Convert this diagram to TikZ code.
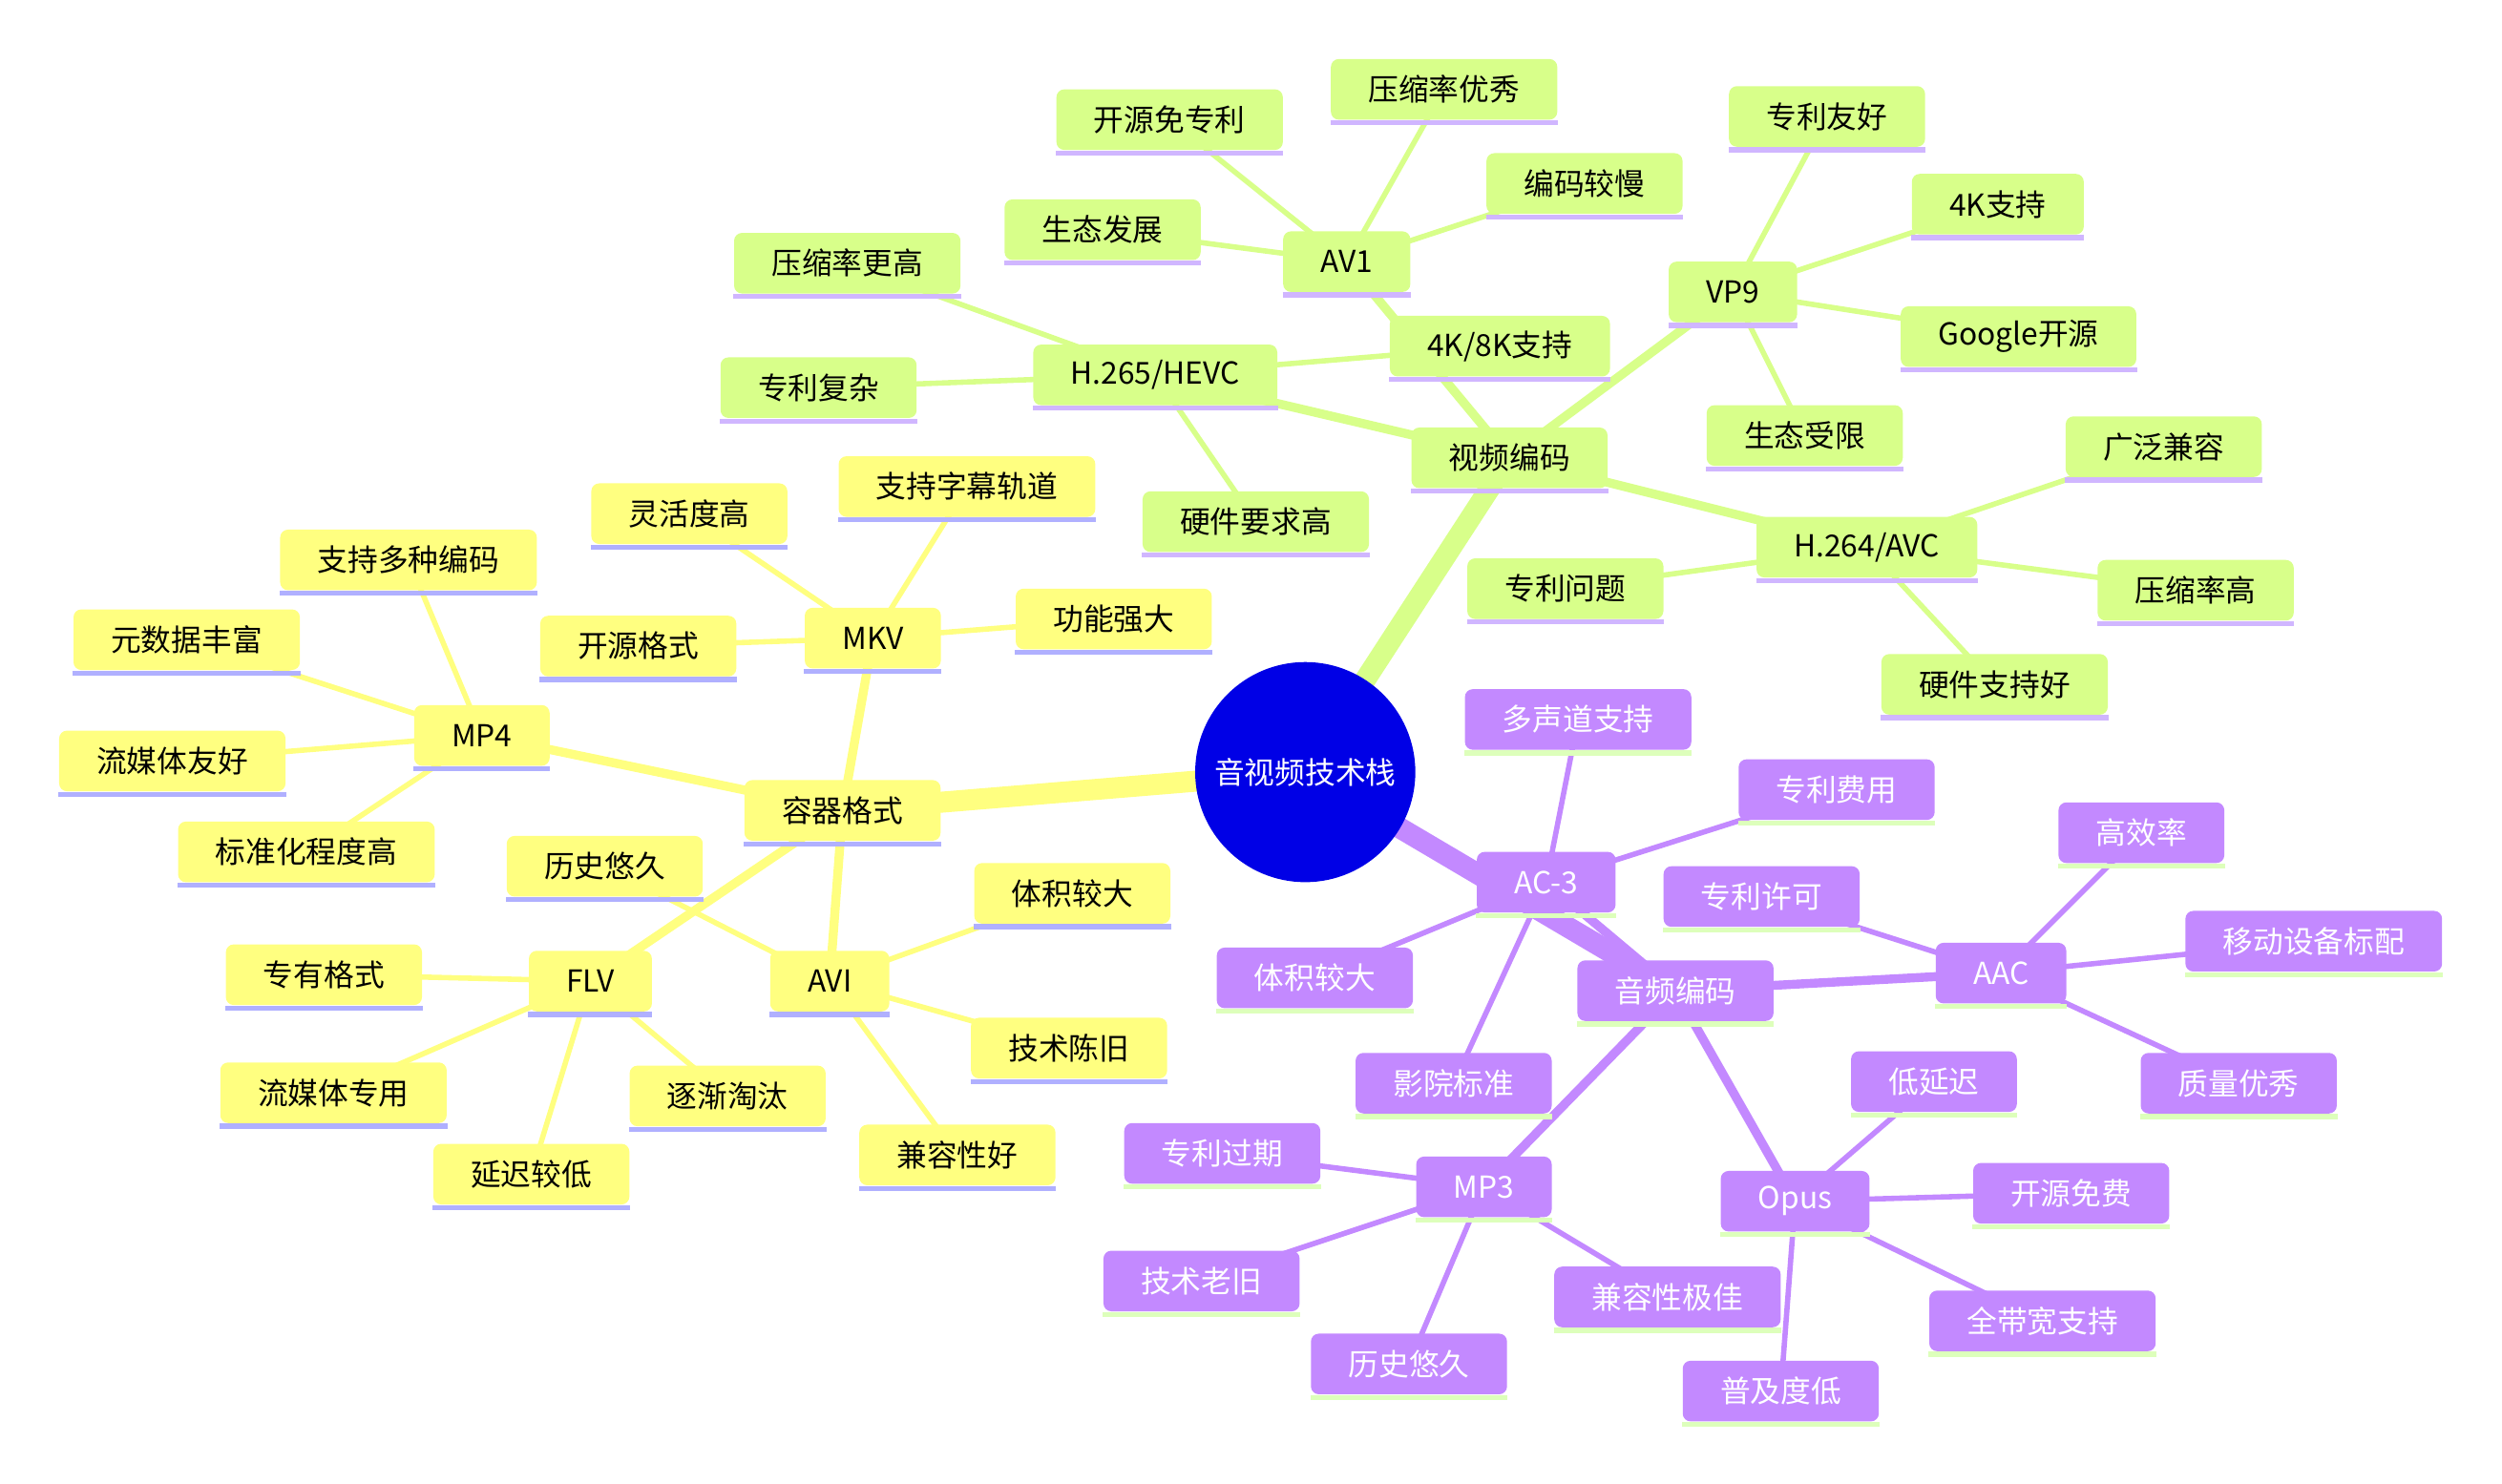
\documentclass[tikz,border=0pt]{standalone}
\usepackage{fontspec}
\setmainfont{Noto Sans CJK SC}
\usetikzlibrary{backgrounds}
\definecolor{vidfill}{RGB}{216,255,138}
\definecolor{vidline}{RGB}{208,182,255}
\definecolor{confill}{RGB}{255,255,128}
\definecolor{conline}{RGB}{176,176,255}
\definecolor{audfill}{RGB}{195,137,255}
\definecolor{audline}{RGB}{221,255,187}
\definecolor{rootfill}{RGB}{0,0,230}
\begin{document}
\begin{tikzpicture}[x=0.02cm, y=-0.02cm, every node/.style={font=\fontsize{10.8}{13}\selectfont},
  b/.style={rounded corners=2.8pt, minimum height=0.76cm, inner xsep=0.47cm, inner ysep=0pt},
  v/.style={b, fill=vidfill, append after command={([yshift=-0.9pt]\tikzlastnode.south west) edge[draw=vidline, line width=1.8pt] ([yshift=-0.9pt]\tikzlastnode.south east)}},
  k/.style={b, fill=confill, append after command={([yshift=-0.9pt]\tikzlastnode.south west) edge[draw=conline, line width=1.8pt] ([yshift=-0.9pt]\tikzlastnode.south east)}},
  a/.style={b, fill=audfill, text=white, append after command={([yshift=-0.9pt]\tikzlastnode.south west) edge[draw=audline, line width=1.8pt] ([yshift=-0.9pt]\tikzlastnode.south east)}},
  e0/.style={line width=7.5pt}, e1/.style={line width=3.2pt}, e2/.style={line width=1.9pt}]
  \useasboundingbox (0,0) rectangle (1568,930);
  % root
  \node[circle, fill=rootfill, text=white, minimum size=2.76cm, inner sep=0pt] (root) at (818,484) {音视频技术栈};
  % video
  \node[v] (vid) at (946,287) {视频编码};
  \node[v] (hevc) at (724,235) {H.265/HEVC};
  \node[v] (av1) at (844,164) {AV1};
  \node[v] (vp9) at (1086,183) {VP9};
  \node[v] (avc) at (1170,343) {H.264/AVC};
  \node[v] (av1a) at (733,75) {开源免专利};
  \node[v] (av1b) at (905,56) {压缩率优秀};
  \node[v] (av1c) at (993,115) {编码较慢};
  \node[v] (av1d) at (691,144) {生态发展};
  \node[v] (hevca) at (531,165) {压缩率更高};
  \node[v] (hevcb) at (513,243) {专利复杂};
  \node[v] (hevcc) at (787,327) {硬件要求高};
  \node[v] (hevcd) at (940,217) {4K/8K支持};
  \node[v] (vp9a) at (1145,73) {专利友好};
  \node[v] (vp9b) at (1252,128) {4K支持};
  \node[v] (vp9c) at (1265,211) {Google开源};
  \node[v] (vp9d) at (1131,273) {生态受限};
  \node[v] (avca) at (1356,280) {广泛兼容};
  \node[v] (avcb) at (1376,370) {压缩率高};
  \node[v] (avcc) at (1250,429) {硬件支持好};
  \node[v] (avcd) at (981,369) {专利问题};
  % container
  \node[k] (con) at (528,508) {容器格式};
  \node[k] (mp4) at (302,461) {MP4};
  \node[k] (mkv) at (547,400) {MKV};
  \node[k] (flv) at (370,615) {FLV};
  \node[k] (avi) at (520,615) {AVI};
  \node[k] (mp4a) at (256,351) {支持多种编码};
  \node[k] (mp4b) at (117,401) {元数据丰富};
  \node[k] (mp4c) at (108,477) {流媒体友好};
  \node[k] (mp4d) at (192,534) {标准化程度高};
  \node[k] (mkva) at (432,322) {灵活度高};
  \node[k] (mkvb) at (606,305) {支持字幕轨道};
  \node[k] (mkvc) at (400,405) {开源格式};
  \node[k] (mkvd) at (698,388) {功能强大};
  \node[k] (flva) at (203,611) {专有格式};
  \node[k] (flvb) at (209,685) {流媒体专用};
  \node[k] (flvc) at (333,736) {延迟较低};
  \node[k] (flvd) at (456,687) {逐渐淘汰};
  \node[k] (avia) at (379,543) {历史悠久};
  \node[k] (avib) at (672,560) {体积较大};
  \node[k] (avic) at (670,657) {技术陈旧};
  \node[k] (avid) at (600,724) {兼容性好};
  % audio
  \node[a] (aud) at (1050,621) {音频编码};
  \node[a] (ac3) at (969,553) {AC-3};
  \node[a] (aac) at (1254,610) {AAC};
  \node[a] (mp3) at (930,744) {MP3};
  \node[a] (opus) at (1125,753) {Opus};
  \node[a] (ac3a) at (989,451) {多声道支持};
  \node[a] (ac3b) at (1151,495) {专利费用};
  \node[a] (ac3c) at (824,613) {体积较大};
  \node[a] (ac3d) at (911,679) {影院标准};
  \node[a] (aaca) at (1104,562) {专利许可};
  \node[a] (aacb) at (1342,522) {高效率};
  \node[a] (aacc) at (1450,590) {移动设备标配};
  \node[a] (aacd) at (1403,679) {质量优秀};
  \node[a] (mp3a) at (766,723) {专利过期};
  \node[a] (mp3b) at (753,803) {技术老旧};
  \node[a] (mp3c) at (883,855) {历史悠久};
  \node[a] (mp3d) at (1045,813) {兼容性极佳};
  \node[a] (opusa) at (1212,678) {低延迟};
  \node[a] (opusb) at (1298,748) {开源免费};
  \node[a] (opusc) at (1280,828) {全带宽支持};
  \node[a] (opusd) at (1116,872) {普及度低};
  % connectors
  \begin{scope}[on background layer]
    \draw[vidfill, e0] (root.center) -- (vid.center);
    \draw[confill, e0] (root.center) -- (con.center);
    \draw[audfill, e0] (root.center) -- (aud.center);
    \draw[vidfill, e1] (vid.center) -- (hevc.center) (vid.center) -- (av1.center)
      (vid.center) -- (vp9.center) (vid.center) -- (avc.center);
    \draw[confill, e1] (con.center) -- (mp4.center) (con.center) -- (mkv.center)
      (con.center) -- (flv.center) (con.center) -- (avi.center);
    \draw[audfill, e1] (aud.center) -- (ac3.center) (aud.center) -- (aac.center)
      (aud.center) -- (mp3.center) (aud.center) -- (opus.center);
    \draw[vidfill, e2] (av1.center) -- (av1a.center) (av1.center) -- (av1b.center)
      (av1.center) -- (av1c.center) (av1.center) -- (av1d.center);
    \draw[vidfill, e2] (hevc.center) -- (hevca.center) (hevc.center) -- (hevcb.center)
      (hevc.center) -- (hevcc.center) (hevc.center) -- (hevcd.center);
    \draw[vidfill, e2] (vp9.center) -- (vp9a.center) (vp9.center) -- (vp9b.center)
      (vp9.center) -- (vp9c.center) (vp9.center) -- (vp9d.center);
    \draw[vidfill, e2] (avc.center) -- (avca.center) (avc.center) -- (avcb.center)
      (avc.center) -- (avcc.center) (avc.center) -- (avcd.center);
    \draw[confill, e2] (mp4.center) -- (mp4a.center) (mp4.center) -- (mp4b.center)
      (mp4.center) -- (mp4c.center) (mp4.center) -- (mp4d.center);
    \draw[confill, e2] (mkv.center) -- (mkva.center) (mkv.center) -- (mkvb.center)
      (mkv.center) -- (mkvc.center) (mkv.center) -- (mkvd.center);
    \draw[confill, e2] (flv.center) -- (flva.center) (flv.center) -- (flvb.center)
      (flv.center) -- (flvc.center) (flv.center) -- (flvd.center);
    \draw[confill, e2] (avi.center) -- (avia.center) (avi.center) -- (avib.center)
      (avi.center) -- (avic.center) (avi.center) -- (avid.center);
    \draw[audfill, e2] (ac3.center) -- (ac3a.center) (ac3.center) -- (ac3b.center)
      (ac3.center) -- (ac3c.center) (ac3.center) -- (ac3d.center);
    \draw[audfill, e2] (aac.center) -- (aaca.center) (aac.center) -- (aacb.center)
      (aac.center) -- (aacc.center) (aac.center) -- (aacd.center);
    \draw[audfill, e2] (mp3.center) -- (mp3a.center) (mp3.center) -- (mp3b.center)
      (mp3.center) -- (mp3c.center) (mp3.center) -- (mp3d.center);
    \draw[audfill, e2] (opus.center) -- (opusa.center) (opus.center) -- (opusb.center)
      (opus.center) -- (opusc.center) (opus.center) -- (opusd.center);
  \end{scope}
\end{tikzpicture}
\end{document}
